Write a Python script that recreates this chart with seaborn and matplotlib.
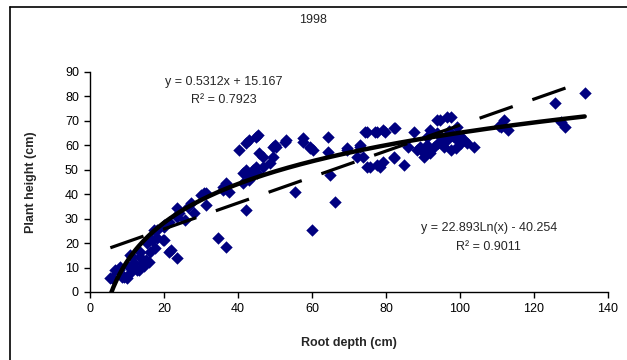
import matplotlib

matplotlib.use("Agg", force=True)
import matplotlib.pyplot as plt
import numpy as np
import pandas as pd
import seaborn as sns
from matplotlib.lines import Line2D

# root depth (cm) and plant height (cm)
root_depth = [
    5.5, 6.0, 6.8, 7.8, 8.2, 8.7, 9.2, 10.0, 10.5, 10.9, 10.9, 11.4, 11.9, 12.8,
    13.2, 13.6, 13.6, 14.1, 14.6, 15.0, 15.5, 15.9, 16.3, 16.8, 17.3, 17.7, 18.2,
    18.2, 19.6, 20.0, 20.0, 20.0, 21.4, 21.4, 21.8, 23.6, 23.6, 23.6, 24.1, 25.8,
    26.4, 27.2, 28.2, 29.9, 30.9, 31.3, 31.3, 34.5, 36.7, 35.9, 35.9, 37.7, 36.7,
    40.4, 41.3, 41.3, 42.2, 42.2, 42.2, 43.1, 43.1, 43.1, 44.0, 44.9, 44.9, 45.0,
    45.4, 45.8, 46.7, 46.7, 48.6, 49.5, 49.5, 49.9, 50.3, 52.6, 53.1, 55.4, 57.6,
    57.6, 59.4, 59.4, 59.9, 60.3, 64.4, 64.4, 64.9, 66.2, 69.4, 69.4, 72.1, 73.0,
    73.0, 73.9, 74.4, 74.8, 74.8, 75.7, 77.1, 77.5, 77.5, 78.4, 79.3, 79.3, 79.8,
    82.1, 82.1, 82.1, 82.5, 84.8, 86.0, 87.5, 88.4, 89.3, 90.2, 90.2, 91.1, 91.0,
    92.0, 92.0, 92.0, 92.9, 93.8, 93.8, 94.0, 94.7, 95.0, 95.7, 96.6, 96.6, 97.0,
    97.5, 97.5, 98.0, 99.0, 99.3, 99.3, 100.0, 100.2, 101.0, 102.0, 103.8, 110.5,
    111.0, 112.0, 112.9, 125.8, 127.4, 128.3, 133.7,
]
plant_height = [
    5.6, 5.7, 9.0, 9.0, 10.2, 6.3, 6.3, 5.7, 10.4, 7.8, 15.1, 14.4, 11.9, 9.0,
    9.0, 14.4, 16.4, 11.9, 10.5, 13.0, 20.0, 12.4, 16.5, 21.3, 25.4, 18.0, 22.0,
    25.4, 21.3, 21.3, 26.7, 27.4, 16.5, 28.8, 17.2, 13.9, 30.8, 34.4, 32.2, 29.5,
    34.9, 36.3, 32.3, 39.7, 40.4, 35.6, 40.5, 22.0, 18.4, 43.0, 41.7, 41.0, 44.6,
    58.1, 48.6, 44.5, 33.6, 60.9, 49.9, 62.2, 47.2, 45.8, 49.9, 51.3, 63.5, 48.6,
    64.2, 56.8, 55.4, 51.3, 52.6, 55.4, 59.5, 60.1, 59.5, 61.5, 62.2, 41.0, 61.5,
    62.9, 59.5, 58.8, 25.4, 58.1, 63.5, 57.4, 47.9, 37.0, 58.1, 58.8, 55.4, 59.5,
    60.1, 55.4, 65.6, 65.6, 51.3, 51.3, 65.6, 52.0, 65.6, 51.3, 66.3, 53.3, 65.6,
    67.0, 54.7, 55.4, 67.0, 52.0, 59.5, 65.6, 58.1, 59.5, 56.8, 55.4, 63.5, 60.0,
    56.8, 66.3, 58.1, 59.5, 65.0, 70.4, 61.0, 70.4, 63.0, 59.5, 62.2, 71.7, 66.0,
    71.7, 58.1, 64.0, 59.0, 67.6, 62.2, 64.0, 60.9, 62.0, 60.9, 59.5, 68.0,
    67.6, 70.4, 66.3, 77.2, 69.5, 67.5, 81.3,
]

# trendline equations printed on the chart
lin_slope, lin_icpt = 0.5312, 15.167
log_coef, log_icpt = 22.893, -40.254
lin_label = ["y = 0.5312x + 15.167", "R² = 0.7923"]
log_label = ["y = 22.893Ln(x) - 40.254", "R² = 0.9011"]

x_ticks = list(range(0, 141, 20))
y_ticks = list(range(0, 91, 10))

sns.set_style("ticks")
plt.rcParams["font.family"] = ["Liberation Sans", "DejaVu Sans"]

df = pd.DataFrame({"depth": root_depth, "height": plant_height})

fig = plt.figure(figsize=(6.27, 3.6), dpi=100)
ax = fig.add_axes([90 / 627, 68 / 360, 518 / 627, 220 / 360])

sns.scatterplot(data=df, x="depth", y="height", marker="D", color="#000080",
                s=40, linewidth=0, ax=ax, zorder=2, legend=False)

xs = np.linspace(df["depth"].min(), df["depth"].max(), 300)
ax.plot(xs, lin_slope * xs + lin_icpt, color="black", lw=2.3,
        linestyle=(0, (11, 6.5)), solid_capstyle="butt", zorder=3)
ax.plot(xs, log_coef * np.log(xs) + log_icpt, color="black", lw=3.2, zorder=3)

ax.set_xlim(0, 140)
ax.set_ylim(0, 90)
ax.set_xticks(x_ticks)
ax.set_yticks(y_ticks)
ax.tick_params(axis="both", direction="out", length=4, width=1, labelsize=9,
               color="black", labelcolor="black", pad=4)
sns.despine(ax=ax)
for side in ["left", "bottom"]:
    ax.spines[side].set_color("black")
    ax.spines[side].set_linewidth(1)

ax.set_xlabel("Root depth (cm)", fontsize=9, fontweight="bold")
ax.set_ylabel("Plant height (cm)", fontsize=9, fontweight="bold")
ax.xaxis.set_label_coords(0.5, -0.205)
ax.yaxis.set_label_coords(-0.102, 0.5)

ax.text(36.1, 86.0, lin_label[0], ha="center", va="center", fontsize=9)
ax.text(36.1, 78.5, lin_label[1], ha="center", va="center", fontsize=9)
ax.text(107.8, 26.2, log_label[0], ha="center", va="center", fontsize=9)
ax.text(107.8, 18.6, log_label[1], ha="center", va="center", fontsize=9)

fig.text(313 / 627, 1 - 20 / 360, "1998", ha="center", va="center", fontsize=9)

# chart frame (top and left edges visible in the screenshot)
fig.add_artist(Line2D([10 / 627, 1.0], [1 - 7 / 360, 1 - 7 / 360],
                      transform=fig.transFigure, color="black", lw=1.2))
fig.add_artist(Line2D([10 / 627, 10 / 627], [0.0, 1 - 7 / 360],
                      transform=fig.transFigure, color="black", lw=1.2))

fig.savefig("out.png", dpi=100)
